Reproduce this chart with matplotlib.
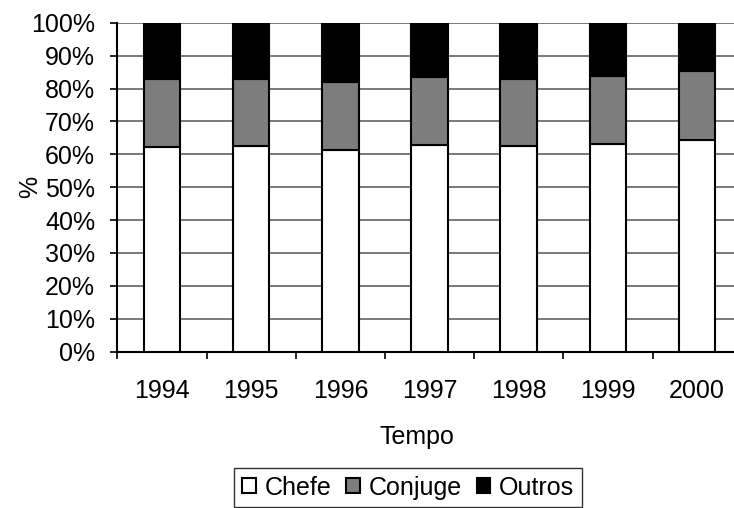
import numpy as np
import matplotlib.pyplot as plt
from matplotlib.ticker import FixedLocator, PercentFormatter

plt.rcParams['font.family'] = ['Liberation Sans', 'DejaVu Sans']

anos = ['1994', '1995', '1996', '1997', '1998', '1999', '2000']
chefe = [62.3, 62.6, 61.3, 62.8, 62.6, 63.1, 64.4]
conjuge = [20.6, 20.2, 20.8, 20.6, 20.2, 20.7, 20.9]
outros = [17.1, 17.2, 17.9, 16.6, 17.2, 16.2, 14.7]

fs = 18
ind = np.arange(len(anos))
width = 0.41

fig = plt.figure(figsize=(7.34, 5.08), dpi=100)
ax = fig.add_axes([0.160, 0.3077, 0.8505, 0.6476])

base1 = np.array(chefe)
base2 = base1 + np.array(conjuge)
b1 = ax.bar(ind, chefe, width, color='white', edgecolor='black', linewidth=1.5, zorder=3)
b2 = ax.bar(ind, conjuge, width, bottom=base1, color='#7d7d7d', edgecolor='black', linewidth=1.5, zorder=3)
b3 = ax.bar(ind, outros, width, bottom=base2, color='black', edgecolor='black', linewidth=1.5, zorder=3)

ax.set_xlim(-0.5, len(anos) - 0.5)
ax.set_ylim(0, 100)
ax.set_yticks(np.arange(0, 101, 10))
ax.yaxis.set_major_formatter(PercentFormatter(decimals=0))
ax.yaxis.grid(True, color='#555555', linewidth=1.1, zorder=0)
ax.set_axisbelow(True)

# year labels centred on the bars, tick marks between categories
ax.set_xticks(ind)
ax.set_xticklabels(anos)
ax.xaxis.set_minor_locator(FixedLocator(ind - 0.5))
ax.tick_params(axis='x', which='major', length=0, pad=20, labelsize=fs)
ax.tick_params(axis='x', which='minor', length=5, width=1.2, direction='out')
ax.tick_params(axis='y', length=5, width=1.2, pad=11, labelsize=fs)

for side in ('top', 'right'):
    ax.spines[side].set_visible(False)
for side in ('left', 'bottom'):
    ax.spines[side].set_linewidth(1.5)

ax.set_xlabel('Tempo', fontsize=fs)
ax.xaxis.set_label_coords(0.479, -0.222)
ax.set_ylabel('%', fontsize=fs)
ax.yaxis.set_label_coords(-0.121, 0.5)

leg = fig.legend((b1[0], b2[0], b3[0]), ('Chefe', 'Conjuge', 'Outros'),
                 loc='center', bbox_to_anchor=(0.556, 0.04), ncol=3,
                 fontsize=fs, frameon=True, fancybox=False,
                 handlelength=0.55, handleheight=0.55, handletextpad=0.35,
                 columnspacing=0.6, borderpad=0.3, borderaxespad=0)
leg.get_frame().set_edgecolor('black')
leg.get_frame().set_linewidth(1.0)

plt.savefig('out.png', dpi=100)
plt.close()
